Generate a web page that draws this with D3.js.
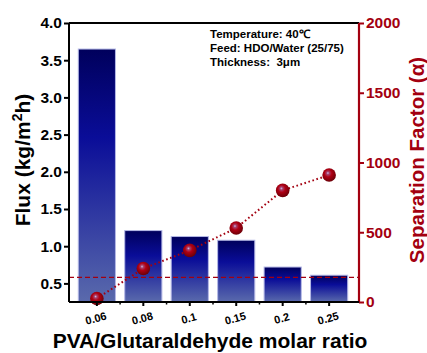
<!DOCTYPE html>
<html lang="en">
<head>
<meta charset="utf-8">
<title>Flux and separation factor</title>
<script src="https://cdn.jsdelivr.net/npm/d3@7"></script>
<style>
  body { margin: 0; background: #fff; }
  text { font-family: "Liberation Sans", Arial, sans-serif; font-weight: bold; }
</style>
</head>
<body>
<script>
// data
var ratios = ["0.06", "0.08", "0.1", "0.15", "0.2", "0.25"];
var flux = [3.65, 1.21, 1.13, 1.08, 0.72, 0.61];
var sepFactor = [25, 240, 370, 530, 800, 910];
var threshold = 0.58;
var fluxTicks = [0.5, 1.0, 1.5, 2.0, 2.5, 3.0, 3.5, 4.0];
var sepTicks = [0, 500, 1000, 1500, 2000];
var notes = ["Temperature: 40\u2103", "Feed: HDO/Water (25/75)", "Thickness:  3\u03bcm"];

var w = 427, h = 353;
var pLeft = 69, pRight = 359, pTop = 23, pBottom = 302;
var red = "#a30010";

var svg = d3.select("body").append("svg")
  .attr("width", w).attr("height", h);

var defs = svg.append("defs");
var bg = defs.append("linearGradient").attr("id", "barGrad")
  .attr("x1", 0).attr("y1", 0).attr("x2", 0).attr("y2", 1);
bg.append("stop").attr("offset", "0%").attr("stop-color", "#00005c");
bg.append("stop").attr("offset", "35%").attr("stop-color", "#0a0d98");
bg.append("stop").attr("offset", "100%").attr("stop-color", "#5a6aac");

var sg = defs.append("radialGradient").attr("id", "ballGrad")
  .attr("cx", "45%").attr("cy", "40%").attr("r", "60%")
  .attr("fx", "40%").attr("fy", "35%");
sg.append("stop").attr("offset", "0%").attr("stop-color", "#c8b8e8");
sg.append("stop").attr("offset", "18%").attr("stop-color", "#a8406a");
sg.append("stop").attr("offset", "45%").attr("stop-color", "#b00014");
sg.append("stop").attr("offset", "100%").attr("stop-color", "#6a0008");

var x = d3.scaleBand().domain(ratios).range([pLeft, pLeft + 288]).padding(0.2);
var yL = d3.scaleLinear().domain([0.25, 4.0]).range([pBottom, pTop]);
var yR = d3.scaleLinear().domain([0, 2000]).range([pBottom, pTop]);

// bars
svg.selectAll("rect.bar")
  .data(flux)
  .enter()
  .append("rect")
  .attr("class", "bar")
  .attr("x", function(d, i) { return x(ratios[i]); })
  .attr("y", function(d) { return yL(d); })
  .attr("width", x.bandwidth())
  .attr("height", function(d) { return yL(0.25) - yL(d); })
  .attr("fill", "url(#barGrad)")
  .attr("stroke", "#b4b8e6")
  .attr("stroke-width", 1);

// threshold dashed line
svg.append("line")
  .attr("x1", pLeft).attr("x2", pRight)
  .attr("y1", yL(threshold)).attr("y2", yL(threshold))
  .attr("stroke", red).attr("stroke-width", 1.3)
  .attr("stroke-dasharray", "5,3");

// separation factor line
var line = d3.line()
  .x(function(d, i) { return x(ratios[i]) + x.bandwidth() / 2; })
  .y(function(d) { return yR(d); });
svg.append("path")
  .datum(sepFactor)
  .attr("d", line)
  .attr("fill", "none")
  .attr("stroke", red)
  .attr("stroke-width", 2)
  .attr("stroke-dasharray", "1.6,2.6");

svg.selectAll("circle.ball")
  .data(sepFactor)
  .enter()
  .append("circle")
  .attr("class", "ball")
  .attr("cx", function(d, i) { return x(ratios[i]) + x.bandwidth() / 2; })
  .attr("cy", function(d) { return yR(d); })
  .attr("r", 6.8)
  .attr("fill", "url(#ballGrad)");

// top frame
svg.append("line")
  .attr("x1", pLeft).attr("x2", pRight)
  .attr("y1", pTop).attr("y2", pTop)
  .attr("stroke", "#000").attr("stroke-width", 2);

// left axis
var yAxisL = d3.axisLeft(yL).tickValues(fluxTicks).tickFormat(d3.format(".1f"))
  .tickSize(5).tickPadding(2);
var gL = svg.append("g")
  .attr("transform", "translate(" + pLeft + ",0)")
  .call(yAxisL);
gL.select(".domain").attr("stroke-width", 2).attr("d", "M0," + pTop + "V" + pBottom);
gL.selectAll(".tick line").attr("stroke-width", 2);
gL.selectAll(".tick text").attr("font-size", 15.5).attr("fill", "#000")
  .attr("font-family", "'Liberation Sans', Arial, sans-serif").attr("font-weight", "bold");

// right axis
var yAxisR = d3.axisRight(yR).tickValues(sepTicks).tickFormat(d3.format("d"))
  .tickSize(5).tickPadding(2);
var gR = svg.append("g")
  .attr("transform", "translate(" + pRight + ",0)")
  .call(yAxisR);
gR.select(".domain").attr("stroke", red).attr("stroke-width", 2.2)
  .attr("d", "M0," + pTop + "V" + pBottom);
gR.selectAll(".tick line").attr("stroke", red).attr("stroke-width", 2);
gR.selectAll(".tick text").attr("font-size", 15.5).attr("fill", red)
  .attr("font-family", "'Liberation Sans', Arial, sans-serif").attr("font-weight", "bold");

// bottom axis
var xAxis = d3.axisBottom(x).tickSize(4).tickFormat("");
var gX = svg.append("g")
  .attr("transform", "translate(0," + pBottom + ")")
  .call(xAxis);
gX.select(".domain").attr("stroke-width", 2.2).attr("d", "M" + pLeft + ",0H" + pRight);
gX.selectAll(".tick line").attr("stroke-width", 2);

// minor ticks between categories
var minor = ratios.slice(1).map(function(r) { return x(r) - x.step() * x.paddingInner() / 2; });
gX.selectAll("line.minor")
  .data(minor)
  .enter()
  .append("line")
  .attr("class", "minor")
  .attr("x1", function(d) { return d; }).attr("x2", function(d) { return d; })
  .attr("y1", 0).attr("y2", 2.5)
  .attr("stroke", "#000").attr("stroke-width", 1.5);

svg.selectAll("text.xlab")
  .data(ratios)
  .enter()
  .append("text")
  .attr("class", "xlab")
  .attr("transform", function(d) {
    return "translate(" + (x(d) + x.bandwidth() / 2) + ",322) rotate(-15)";
  })
  .attr("text-anchor", "middle")
  .attr("font-size", 11)
  .text(function(d) { return d; });

// axis titles
var fluxTitle = svg.append("text")
  .attr("transform", "translate(30,160) rotate(-90)")
  .attr("text-anchor", "middle")
  .attr("font-size", 21);
fluxTitle.append("tspan").text("Flux (kg/m");
fluxTitle.append("tspan").attr("font-size", 14).attr("dy", -8).text("2");
fluxTitle.append("tspan").attr("dy", 8).text("h)");

svg.append("text")
  .attr("transform", "translate(424,160) rotate(-90)")
  .attr("text-anchor", "middle")
  .attr("font-size", 20.5)
  .attr("fill", red)
  .text("Separation Factor (\u03b1)");

svg.append("text")
  .attr("x", 210).attr("y", 348)
  .attr("text-anchor", "middle")
  .attr("font-size", 21)
  .text("PVA/Glutaraldehyde molar ratio");

// annotation
svg.selectAll("text.note")
  .data(notes)
  .enter()
  .append("text")
  .attr("class", "note")
  .attr("x", 210)
  .attr("y", function(d, i) { return 37.5 + i * 14.2; })
  .attr("font-size", 11.5)
  .style("white-space", "pre")
  .text(function(d) { return d; });
</script>
</body>
</html>
